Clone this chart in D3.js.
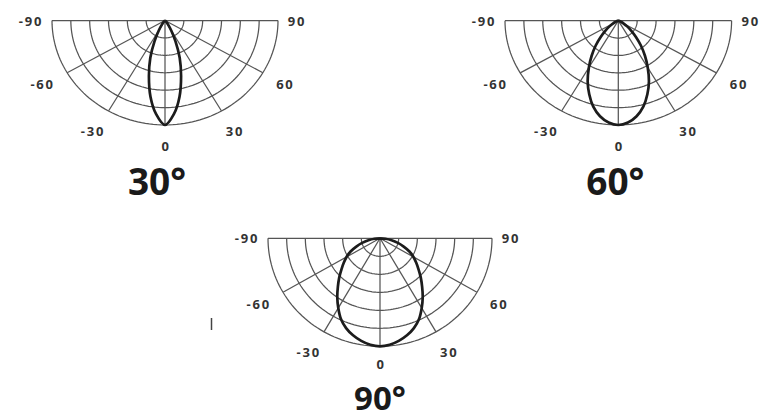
<!DOCTYPE html>
<html>
<head>
<meta charset="utf-8">
<script src="https://cdn.jsdelivr.net/npm/d3@7"></script>
<style>
  body { margin: 0; background: #fff; }
  svg { display: block; }
  .grid { fill: none; stroke: #555; stroke-width: 1.25; }
  .lobe { fill: none; stroke: #1c1c1c; stroke-width: 2.7; }
  .tick { font-family: "Open Sans", sans-serif; font-weight: 700; font-size: 13px; fill: #333; letter-spacing: 1.8px; }
  .title { font-family: "Open Sans", sans-serif; font-weight: 700; fill: #1a1a1a; }
</style>
</head>
<body>
<script>
const width = 765, height = 419;

// angles off the beam axis (deg) and relative intensity
const angles = [0, 5, 10, 15, 20, 25, 30, 35, 40, 45, 50, 55, 60, 65, 70, 75, 80, 85, 90];
const beam30 = [1, 0.9, 0.74, 0.55, 0.38, 0.22, 0.11, 0.048, 0.019, 0.006, 0.002, 0.001, 0, 0, 0, 0, 0, 0, 0];
const beam60 = [1, 0.98, 0.93, 0.853, 0.75, 0.64, 0.52, 0.41, 0.31, 0.22, 0.15, 0.095, 0.055, 0.03, 0.015, 0.007, 0.003, 0.001, 0];
const beam90 = [1, 0.99, 0.965, 0.93, 0.885, 0.825, 0.745, 0.665, 0.585, 0.515, 0.45, 0.395, 0.345, 0.29, 0.225, 0.165, 0.105, 0.05, 0];

const titles = ['30°', '60°', '90°'];
const tickLabels = [-90, -60, -30, 0, 30, 60, 90];
const spokes = [-60, -30, 0, 30, 60];
const rings = [1, 2, 3, 4, 5, 6];

// layout of the three diagrams
const charts = [
  {cx: 165, cy: 20.5, rx: 113, ry: 104.5, titleDx: -8, titleY: 1.67, titleSize: 37, zeroDy: -2, beam: beam30},
  {cx: 618.3, cy: 20.7, rx: 113.3, ry: 104.3, titleDx: -3, titleY: 1.67, titleSize: 37, zeroDy: -2, beam: beam60},
  {cx: 380, cy: 238.3, rx: 112, ry: 108, titleDx: 0, titleY: 1.586, titleSize: 33, zeroDy: -6, beam: beam90}
];

const svg = d3.select('body').append('svg')
  .attr('width', width)
  .attr('height', height);

const rad = d => d * Math.PI / 180;

charts.forEach((c, i) => {
  const g = svg.append('g')
    .attr('transform', 'translate(' + c.cx + ',' + c.cy + ')');

  const x = d3.scaleLinear().domain([-1, 1]).range([-c.rx, c.rx]);
  const y = d3.scaleLinear().domain([0, 1]).range([0, c.ry]);

  // polar -> screen (0 deg points down)
  const px = d => x(d.r * Math.sin(rad(d.a)));
  const py = d => y(d.r * Math.cos(rad(d.a)));

  const line = d3.line().x(px).y(py);

  // rings
  const sweep = d3.range(-90, 90.1, 2);
  g.selectAll('.ring')
    .data(rings)
    .join('path')
      .attr('class', 'grid ring')
      .attr('d', k => line(sweep.map(a => ({a: a, r: k / rings.length}))));

  // spokes
  g.selectAll('.spoke')
    .data(spokes)
    .join('path')
      .attr('class', 'grid spoke')
      .attr('d', a => line([{a: a, r: 0}, {a: a, r: 1}]));

  // horizontal top line (-90 .. 90)
  g.append('path')
    .attr('class', 'grid')
    .attr('d', line([{a: -90, r: 1}, {a: 90, r: 1}]));

  // beam curve, mirrored around 0
  const pts = angles.map((a, j) => ({a: -a, r: c.beam[j]})).reverse()
    .concat(angles.slice(1).map((a, j) => ({a: a, r: c.beam[j + 1]})));
  g.append('path')
    .attr('class', 'lobe')
    .attr('d', d3.line().x(px).y(py).curve(d3.curveCatmullRom.alpha(0.5))(pts));

  // angle labels
  const lr = a => Math.abs(a) === 90 ? 1.16 : 1.22;
  g.selectAll('.tick')
    .data(tickLabels)
    .join('text')
      .attr('class', 'tick')
      .attr('x', a => px({a: a, r: lr(a)}) + (a < 0 ? -3 : 1))
      .attr('y', a => py({a: a, r: lr(a)}) + (a === 0 ? c.zeroDy : 0))
      .attr('text-anchor', 'middle')
      .attr('dominant-baseline', 'central')
      .text(a => a);

  g.append('text')
    .attr('class', 'title')
    .attr('x', c.titleDx)
    .attr('y', y(c.titleY))
    .attr('font-size', c.titleSize + 'px')
    .attr('text-anchor', 'middle')
    .text(titles[i]);
});

// small stray mark left of the bottom diagram
svg.append('line')
  .attr('x1', 211.5).attr('x2', 211.5)
  .attr('y1', 318).attr('y2', 330)
  .attr('stroke', '#444')
  .attr('stroke-width', 1.5);
</script>
</body>
</html>
